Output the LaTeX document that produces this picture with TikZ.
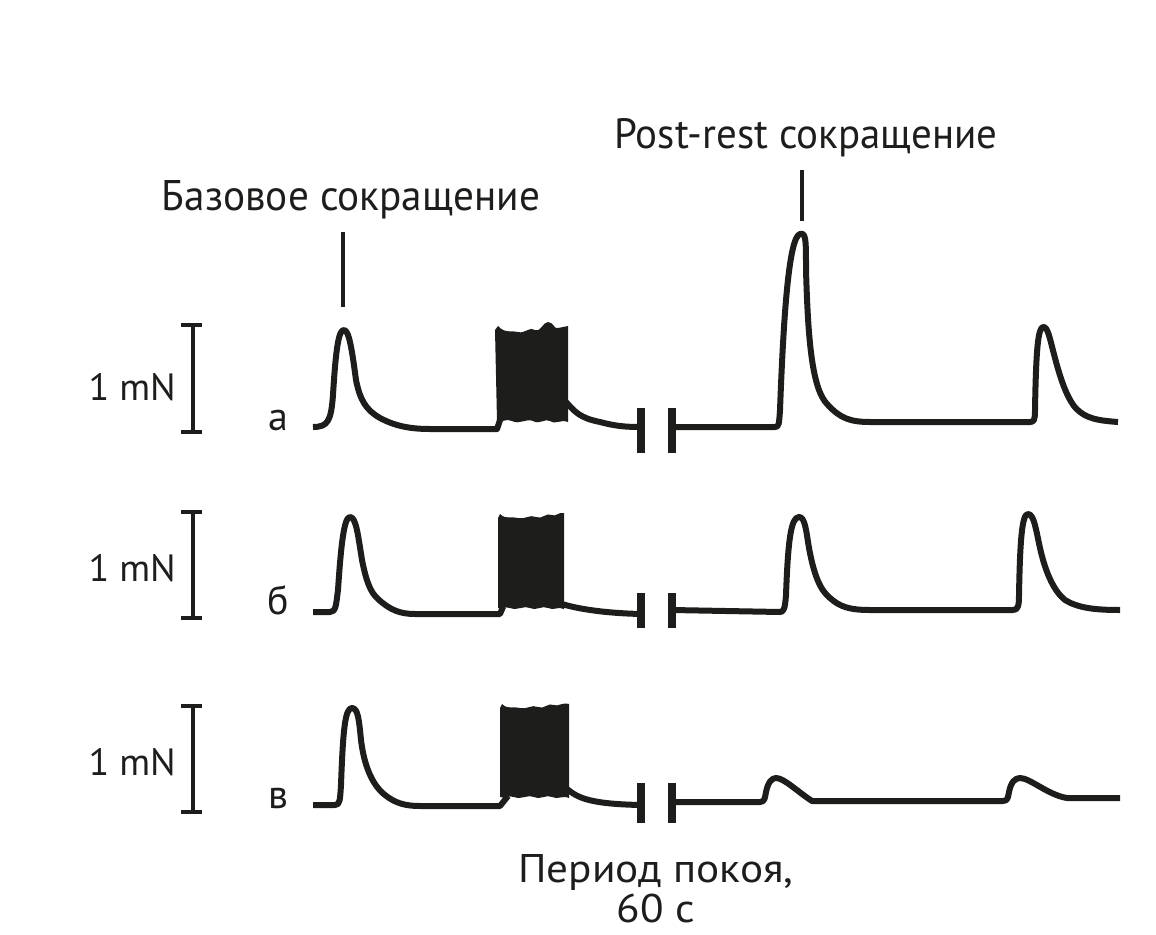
\documentclass[tikz,border=0pt]{standalone}
\usepackage{fontspec}
\setmainfont{PT Sans}
\usepackage{graphicx}
\definecolor{ink}{RGB}{29,29,27}
\begin{document}
\begin{tikzpicture}[x=1pt,y=-1pt,
  trace/.style={ink,line width=6pt,line join=round,line cap=butt},
  bar/.style={ink,line width=7.5pt},
  scalebar/.style={ink,line width=4.5pt},
  tick/.style={ink,line width=3.5pt},
  lbl/.style={text=ink,inner sep=0pt,font=\fontsize{38}{40}\selectfont},
  letter/.style={text=ink,inner sep=0pt,font=\fontsize{40}{44}\selectfont}]
\useasboundingbox (0,0) rectangle (1156,934);

% ---------- titles ----------
\node[text=ink,inner sep=0pt,anchor=base] (base) at (351,210)
  {\resizebox{378pt}{30pt}{\fontsize{40}{40}\selectfont Базовое сокращение}};
\node[text=ink,inner sep=0pt,anchor=base] (post) at (806,148)
  {\resizebox{383pt}{30pt}{\fontsize{40}{40}\selectfont Post-rest сокращение}};
\coordinate (bt1) at (343,232); \coordinate (bt2) at (343,307);
\coordinate (pt1) at (802,170); \coordinate (pt2) at (802,221);
\draw[tick] (bt1) -- (bt2);
\draw[tick] (pt1) -- (pt2);

% ---------- scale bars and labels ----------
\foreach \yt/\yb/\yl/\yn/\lt/\nm in {325/432/387/422/а/a, 512/618/568/606/б/b, 706/812/762/800/в/c}{
  \coordinate (s\nm1) at (193,\yt); \coordinate (s\nm2) at (193,\yb);
  \draw[scalebar] (s\nm1) -- (s\nm2);
  \draw[scalebar] (181,\yt) -- (202,\yt);
  \draw[scalebar] (181,\yb) -- (202,\yb);
  \node[lbl,anchor=east] (mn\nm) at (176,\yl) {1 mN};
  \node[letter,anchor=base] (l\nm) at (278,\yn+8) {\lt};
}

% ---------- trace a ----------
\draw[trace] (313,427) .. controls (328,427) and (331,421) .. (333,395)
  .. controls (336,345) and (339,330) .. (344,330)
  .. controls (349,330) and (352,350) .. (356,380)
  .. controls (360,400) and (366,410) .. (380,418)
  .. controls (395,426) and (410,429) .. (430,429)
  -- (497,429) -- (500,420);
\fill[ink] (495,330) -- (498,326) .. controls (505,334) and (512,330) .. (518,332)
  .. controls (525,334) and (530,326) .. (535,330) .. controls (540,333) and (543,322) .. (548,322)
  .. controls (553,322) and (555,330) .. (558,328) -- (568,326) -- (568,422)
  .. controls (560,419) and (556,425) .. (550,421) .. controls (545,418) and (540,425) .. (533,421)
  .. controls (526,418) and (520,425) .. (512,421) .. controls (506,418) and (502,423) .. (497,421) -- cycle;
\draw[trace] (566,402) .. controls (575,412) and (580,418) .. (600,422)
  .. controls (615,426) and (625,427) .. (641,427);
\draw[bar] (641,408) -- (641,453);
\draw[bar] (672,408) -- (672,453);
\draw[trace] (672,427) -- (775,427) .. controls (779,427) and (779,424) .. (780,410)
  .. controls (783,330) and (788,237) .. (800,234)
  .. controls (806,232) and (806,240) .. (806,270)
  .. controls (808,340) and (812,390) .. (828,405)
  .. controls (840,418) and (850,422) .. (870,422) -- (1030,422)
  .. controls (1034,422) and (1035,420) .. (1035,410)
  .. controls (1036,350) and (1038,328) .. (1043,327)
  .. controls (1048,326) and (1050,340) .. (1055,358)
  .. controls (1062,385) and (1070,405) .. (1080,412)
  .. controls (1090,420) and (1105,421) .. (1118,422);

% ---------- trace b ----------
\draw[trace] (313,612) -- (330,612) .. controls (336,612) and (336,605) .. (338,590)
  .. controls (341,545) and (344,517) .. (350,517)
  .. controls (356,517) and (358,535) .. (362,560)
  .. controls (366,580) and (370,592) .. (378,599)
  .. controls (390,610) and (400,614) .. (415,614) -- (500,614) -- (503,607);
\fill[ink] (498,518) -- (500,514) .. controls (506,520) and (512,516) .. (518,518)
  .. controls (524,520) and (530,514) .. (536,517) .. controls (542,520) and (546,512) .. (552,515)
  .. controls (556,517) and (558,512) .. (564,513) -- (564,609)
  .. controls (558,606) and (554,611) .. (548,608) .. controls (542,605) and (538,611) .. (530,608)
  .. controls (524,605) and (518,611) .. (510,608) .. controls (505,606) and (502,610) .. (498,608) -- cycle;
\draw[trace] (562,604) .. controls (575,608) and (600,613) .. (641,614);
\draw[bar] (641,593) -- (641,628);
\draw[bar] (672,593) -- (672,628);
\draw[trace] (672,610) -- (780,612) .. controls (784,612) and (785,608) .. (786,595)
  .. controls (788,540) and (791,517) .. (799,517)
  .. controls (805,517) and (806,530) .. (809,548)
  .. controls (814,575) and (820,590) .. (830,598)
  .. controls (840,607) and (850,610) .. (870,610) -- (1013,610)
  .. controls (1018,610) and (1019,606) .. (1019,595)
  .. controls (1020,540) and (1022,514) .. (1028,514)
  .. controls (1034,514) and (1036,530) .. (1040,548)
  .. controls (1046,575) and (1055,592) .. (1065,600)
  .. controls (1078,608) and (1095,610) .. (1120,610);

% ---------- trace c ----------
\draw[trace] (313,805) -- (335,805) .. controls (340,805) and (340,800) .. (341,785)
  .. controls (343,730) and (345,708) .. (352,708)
  .. controls (358,708) and (359,720) .. (361,740)
  .. controls (364,765) and (372,785) .. (385,795)
  .. controls (395,803) and (405,806) .. (420,806) -- (500,806) -- (508,796);
\fill[ink] (500,708) -- (502,704) .. controls (508,710) and (514,706) .. (520,708)
  .. controls (526,710) and (532,704) .. (538,707) .. controls (544,710) and (548,702) .. (554,705)
  .. controls (558,707) and (562,702) .. (569,704) -- (569,798)
  .. controls (562,795) and (558,800) .. (552,797) .. controls (546,794) and (542,800) .. (534,797)
  .. controls (528,794) and (522,800) .. (514,797) .. controls (508,795) and (504,799) .. (500,797) -- cycle;
\draw[trace] (567,789) .. controls (578,798) and (590,804) .. (641,805);
\draw[bar] (641,783) -- (641,823);
\draw[bar] (672,783) -- (672,823);
\draw[trace] (672,802) -- (760,802) .. controls (765,802) and (765,797) .. (766,792)
  .. controls (768,782) and (772,778) .. (776,778)
  .. controls (784,778) and (798,792) .. (812,801) -- (1003,801)
  .. controls (1008,801) and (1008,797) .. (1009,792)
  .. controls (1011,782) and (1015,778) .. (1020,778)
  .. controls (1030,778) and (1048,795) .. (1067,798) -- (1120,798);

% ---------- bottom label ----------
\node[text=ink,inner sep=0pt,anchor=base] (rest1) at (656,882)
  {\scalebox{1.08}[1]{\fontsize{40}{44}\selectfont Период покоя,}};
\node[text=ink,inner sep=0pt,anchor=base] (rest2) at (656,922)
  {\scalebox{1.08}[1]{\fontsize{40}{44}\selectfont 60 с}};
\end{tikzpicture}
\end{document}
